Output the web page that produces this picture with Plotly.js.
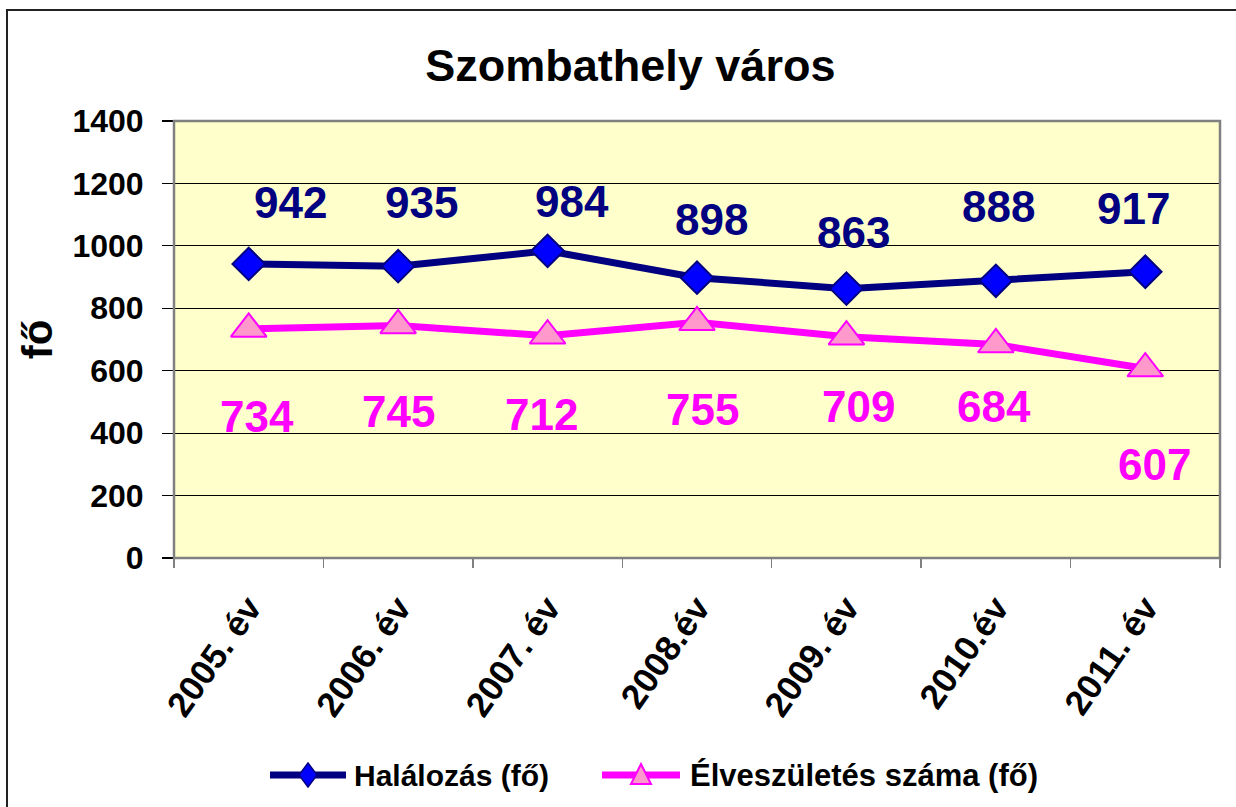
<!DOCTYPE html>
<html>
<head>
<meta charset="utf-8">
<script src="https://cdn.plot.ly/plotly-3.0.1.min.js"></script>
<style>
  html, body { margin: 0; padding: 0; background: #ffffff; overflow: hidden; }
  #frame { position: absolute; left: 6px; top: 9px; width: 1400px; height: 1000px;
           border-left: 2px solid #222; border-top: 2px solid #222; pointer-events: none; z-index: 5; }
  #chart { position: absolute; left: 0; top: 0; width: 1236px; height: 807px; }
</style>
</head>
<body>
<div id="chart"></div>
<div id="frame"></div>
<script>
// ---- data ----
const categories = ["2005. év", "2006. év", "2007. év", "2008.év", "2009. év", "2010.év", "2011. év"];
const halalozas = [942, 935, 984, 898, 863, 888, 917];
const eleveszuletes = [734, 745, 712, 755, 709, 684, 607];
const yTicks = [0, 200, 400, 600, 800, 1000, 1200, 1400];
const seriesNames = ["Halálozás (fő)", "Élveszületés száma (fő)"];
const chartTitle = "Szombathely város";
const yTitle = "fő";

// ---- label placement (pixel offsets, layout only) ----
const navyLabelDx = [42, 23, 24, 14, 7, 3, -12];
const navyLabelDy = [61, 64, 49, 58, 56, 74, 63];
const pinkLabelDx = [8, 0, -6, 5, 12, -2, 9];
const pinkLabelDy = [-88, -86, -79, -87, -70, -62, -96];

const FONT = "'Liberation Sans', Arial, sans-serif";
const NAVY = "#000080", BLUE = "#0000FF", MAGENTA = "#FF00FF", PINK = "#FF99CC";

const traces = [
  {
    x: categories, y: halalozas, name: seriesNames[0], type: "scatter", mode: "lines+markers",
    line: { color: NAVY, width: 7 },
    marker: { symbol: "diamond", size: 25, color: BLUE, line: { color: NAVY, width: 2 } },
    showlegend: false
  },
  {
    x: categories, y: eleveszuletes, name: seriesNames[1], type: "scatter", mode: "lines+markers",
    line: { color: MAGENTA, width: 7 },
    marker: { symbol: "triangle-up", size: 31, color: PINK, line: { color: MAGENTA, width: 2 } },
    showlegend: false
  }
];

const annotations = [];
categories.forEach((c, i) => {
  annotations.push({ x: c, y: halalozas[i], xref: "x", yref: "y", text: "<b>" + halalozas[i] + "</b>",
    showarrow: false, xshift: navyLabelDx[i], yshift: navyLabelDy[i],
    font: { family: FONT, size: 44, color: NAVY } });
  annotations.push({ x: c, y: eleveszuletes[i], xref: "x", yref: "y", text: "<b>" + eleveszuletes[i] + "</b>",
    showarrow: false, xshift: pinkLabelDx[i], yshift: pinkLabelDy[i],
    font: { family: FONT, size: 44, color: MAGENTA } });
});

// ---- custom legend (paper coordinates of plot area: x 174..1220 px, y 558..121 px) ----
const PL = 174, PW = 1046, PB = 558, PH = 437;
const px = v => (v - PL) / PW;
const py = v => (PB - v) / PH;
const legY = py(775);
annotations.push({ xref: "paper", yref: "paper", x: px(352), y: legY, xanchor: "left", yanchor: "middle",
  text: "<b>" + seriesNames[0] + "</b>", showarrow: false, font: { family: FONT, size: 30, color: "#000" } });
annotations.push({ xref: "paper", yref: "paper", x: px(688), y: legY, xanchor: "left", yanchor: "middle",
  text: "<b>" + seriesNames[1] + "</b>", showarrow: false, font: { family: FONT, size: 31, color: "#000" } });

const shapes = [
  { type: "rect", xref: "paper", yref: "paper", x0: 0, x1: 1, y0: 0, y1: 1,
    line: { color: "#808080", width: 2.5 }, fillcolor: "rgba(0,0,0,0)", layer: "above" },
  { type: "line", xref: "paper", yref: "paper", x0: px(270), x1: px(346), y0: legY, y1: legY,
    line: { color: NAVY, width: 7 } },
  { type: "path", xref: "paper", yref: "paper", xsizemode: "pixel", ysizemode: "pixel",
    xanchor: px(308), yanchor: legY, path: "M0,12 L9,0 L0,-12 L-9,0 Z",
    fillcolor: BLUE, line: { color: NAVY, width: 1.5 } },
  { type: "line", xref: "paper", yref: "paper", x0: px(602), x1: px(680), y0: legY, y1: legY,
    line: { color: MAGENTA, width: 7 } },
  { type: "path", xref: "paper", yref: "paper", xsizemode: "pixel", ysizemode: "pixel",
    xanchor: px(641), yanchor: legY, path: "M-10,-9 L10,-9 L0,11 Z",
    fillcolor: PINK, line: { color: MAGENTA, width: 2 } }
];

const layout = {
  width: 1236, height: 807,
  margin: { l: 174, r: 16, t: 121, b: 249 },
  paper_bgcolor: "#ffffff",
  plot_bgcolor: "#FFFFCC",
  font: { family: FONT, color: "#000000" },
  title: { text: "<b>" + chartTitle + "</b>", font: { family: FONT, size: 45, color: "#000000" },
           xref: "container", x: 0.51, xanchor: "center", yref: "container", y: 0.919, yanchor: "middle" },
  xaxis: {
    type: "category", range: [-0.5, 6.5], tickson: "boundaries",
    ticks: "outside", ticklen: 9, tickwidth: 1.5, tickcolor: "#808080",
    showgrid: false, showline: false, zeroline: false,
    tickangle: -55, ticklabelstandoff: 21,
    tickfont: { family: FONT, size: 35, color: "#000000", weight: "bold" }
  },
  yaxis: {
    range: [0, 1400], tickvals: yTicks, ticks: "outside", ticklen: 11, tickwidth: 1.2, tickcolor: "#000000",
    showgrid: true, gridcolor: "#000000", gridwidth: 1, zeroline: false, showline: false,
    ticklabelstandoff: 12,
    tickfont: { family: FONT, size: 32, color: "#000000", weight: "bold" },
    title: { text: "<b>" + yTitle + "</b>", font: { family: FONT, size: 42, color: "#000000" }, standoff: 6 }
  },
  showlegend: false,
  shapes: shapes,
  annotations: annotations
};

Plotly.newPlot("chart", traces, layout, { displayModeBar: false, staticPlot: true });
</script>
</body>
</html>
